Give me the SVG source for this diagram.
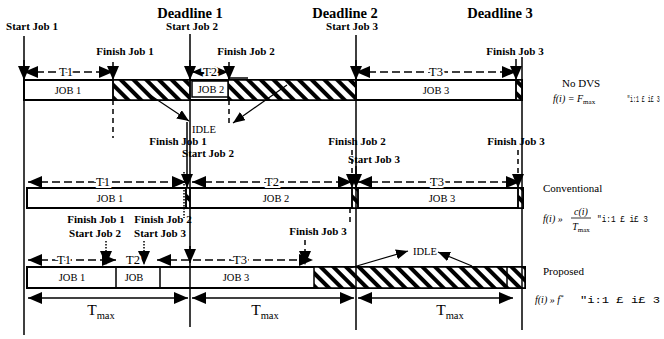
<svg xmlns="http://www.w3.org/2000/svg" width="664" height="339" viewBox="0 0 664 339" font-family="'Liberation Serif', 'Times New Roman', serif">
<defs>
<style>
text{font-family:"Liberation Serif","Times New Roman",serif;fill:#000}
.lb{font-size:11px;font-weight:bold;text-anchor:middle}
.dl{font-size:14.5px;font-weight:bold;text-anchor:middle}
.jb{font-size:10.5px;text-anchor:middle}
.tl{font-size:12.5px;text-anchor:middle;stroke:#fff;stroke-width:4;paint-order:stroke}
.tm{font-size:15.5px;text-anchor:middle}
.rl{font-size:11px}
.fm{font-size:10px;font-style:italic}
.mono{font-family:"Liberation Mono","Courier New",monospace;font-size:9px}
.vl{stroke:#000;stroke-width:1.5;fill:none}
.ar{stroke:#000;stroke-width:1.5;fill:none;marker-end:url(#ah)}
.da{stroke:#000;stroke-width:1.5;fill:none;stroke-dasharray:8,4;marker-start:url(#ah);marker-end:url(#ah)}
.dd{stroke:#000;stroke-width:1.5;fill:none;stroke-dasharray:5,4}
.dda{stroke:#000;stroke-width:1.5;fill:none;stroke-dasharray:5,4;marker-end:url(#ah)}
.dot{stroke:#000;stroke-width:1.5;fill:none;stroke-dasharray:1.5,1.5}
.dota{stroke:#000;stroke-width:1.5;fill:none;stroke-dasharray:1.5,1.5;marker-end:url(#ah)}
.sa{stroke:#000;stroke-width:1.5;fill:none;marker-start:url(#ah);marker-end:url(#ah)}
.ia{stroke:#000;stroke-width:1.2;fill:none;marker-end:url(#ahs)}
.box{fill:#fff;stroke:#000;stroke-width:2}
.hz{fill:url(#hatch);stroke:#000;stroke-width:1.5}
</style>
<marker id="ah" viewBox="0 0 14 12" refX="14" refY="6" markerWidth="14" markerHeight="12" markerUnits="userSpaceOnUse" orient="auto-start-reverse"><path d="M0,0 L14,6 L0,12 z" fill="#000"/></marker>
<marker id="ahs" viewBox="0 0 12 10" refX="12" refY="5" markerWidth="12" markerHeight="10" markerUnits="userSpaceOnUse" orient="auto"><path d="M0,0 L12,5 L0,10 z" fill="#000"/></marker>
<pattern id="hatch" width="9" height="9" patternUnits="userSpaceOnUse" patternTransform="rotate(-45)"><rect width="9" height="9" fill="#fff"/><rect width="4" height="9" fill="#000"/></pattern>
</defs>

<g id="headers">
<text class="dl" x="190" y="18">Deadline 1</text>
<text class="dl" x="345" y="18">Deadline 2</text>
<text class="dl" x="500" y="18">Deadline 3</text>
</g>

<g id="row-nodvs">
<rect class="box" x="24" y="80" width="498" height="20"/>
<rect class="hz" x="113" y="80" width="77" height="20"/>
<rect class="hz" x="228" y="80" width="128" height="20"/>
<rect class="hz" x="516" y="80" width="6" height="20"/>
<rect fill="#fff" stroke="#000" stroke-width="1.5" x="192" y="81" width="36" height="16"/>
<path class="vl" d="M228,78 H248"/>
<text class="jb" x="68" y="94">JOB 1</text>
<text class="jb" x="211" y="93">JOB 2</text>
<text class="jb" x="436" y="94">JOB 3</text>
<text class="lb" x="32" y="30">Start Job 1</text>
<text class="lb" x="192" y="30">Start Job 2</text>
<text class="lb" x="352" y="30">Start Job 3</text>
<text class="lb" x="125" y="55">Finish Job 1</text>
<text class="lb" x="246" y="55">Finish Job 2</text>
<text class="lb" x="515" y="55">Finish Job 3</text>
<text class="jb" x="204" y="133">IDLE</text>
<text class="rl" x="562" y="87">No DVS</text>
<text class="fm" x="553" y="102">f(i) = F<tspan font-size="7" font-style="normal" dy="2">max</tspan></text>
<text class="mono" transform="translate(627,102) scale(0.55,1)">"i:1 £ i£ 3</text>
</g>

<g id="row-conventional">
<rect class="box" x="27" y="188" width="496" height="20"/>
<rect class="hz" x="186" y="188" width="4" height="20"/>
<rect class="hz" x="352" y="188" width="6" height="20"/>
<rect class="hz" x="518" y="188" width="5" height="20"/>
<text class="jb" x="110" y="202">JOB 1</text>
<text class="jb" x="276" y="202">JOB 2</text>
<text class="jb" x="442" y="202">JOB 3</text>
<text class="lb" x="178" y="145">Finish Job 1</text>
<text class="lb" x="208" y="157">Start Job 2</text>
<text class="lb" x="357" y="145">Finish Job 2</text>
<text class="lb" x="374" y="163">Start Job 3</text>
<text class="lb" x="516" y="145">Finish Job 3</text>
<text class="rl" x="543" y="192">Conventional</text>
<text class="fm" x="543" y="222">f(i) »</text>
<text class="fm" x="581" y="215" text-anchor="middle">c(i)</text>
<path d="M571,218 H591" stroke="#000" stroke-width="0.8"/>
<text class="fm" x="581" y="230" text-anchor="middle">T<tspan font-size="7" font-style="normal" dy="2">max</tspan></text>
<text class="mono" x="597" y="222" textLength="51" lengthAdjust="spacingAndGlyphs">"i:1 £ i£ 3</text>
</g>

<g id="row-proposed">
<rect class="box" x="27" y="267" width="498" height="21"/>
<rect class="hz" x="314" y="267" width="211" height="21"/>
<path class="vl" d="M116,267 V288 M160,267 V288 M507,267 V288"/>
<text class="jb" x="72" y="281">JOB 1</text>
<text class="jb" x="134" y="281">JOB</text>
<text class="jb" x="236" y="281">JOB 3</text>
<text class="lb" x="96" y="223">Finish Job 1</text>
<text class="lb" x="95" y="237">Start Job 2</text>
<text class="lb" x="163" y="223">Finish Job 2</text>
<text class="lb" x="160" y="237">Start Job 3</text>
<text class="lb" x="318" y="235">Finish Job 3</text>
<text class="jb" x="425" y="255">IDLE</text>
<text class="tm" x="101" y="315">T<tspan font-size="10.5" dy="4">max</tspan></text>
<text class="tm" x="265" y="315">T<tspan font-size="10.5" dy="4">max</tspan></text>
<text class="tm" x="450" y="315">T<tspan font-size="10.5" dy="4">max</tspan></text>
<text class="rl" x="543" y="275">Proposed</text>
<text class="fm" x="535" y="303">f(i) » f<tspan font-size="7" dy="-4">*</tspan></text>
<text class="mono" x="580" y="303" textLength="80" lengthAdjust="spacingAndGlyphs">"i:1 £ i£ 3</text>
</g>

<g id="connectors">
<path class="vl" d="M24,36 V335 M190,34 V327 M356,35 V330 M522,57 V330"/>
<path class="vl" d="M113,80 V100 M356,80 V100 M516,80 V100"/>
<path class="ar" d="M24,60 V80"/>
<path class="ar" d="M113,62 V80"/>
<path class="ar" d="M190,60 V80"/>
<path class="ar" d="M229,62 V80"/>
<path class="ar" d="M356,60 V80"/>
<path class="ar" d="M516,59 V80"/>
<path class="da" d="M24,72 H113"/>
<path class="da" d="M192,72 H228"/>
<path class="da" d="M356,72 H516"/>
<path class="dd" d="M113,100 V138 M229,100 V126"/>
<path class="ia" d="M150,95 L189,121"/>
<path class="ia" d="M287,85 L233,123"/>
<path class="vl" d="M186,188 V208 M352,188 V208 M358,188 V208 M518,188 V208"/>
<path class="ar" d="M187,122 V188"/>
<path class="dda" d="M352,150 V188"/>
<path class="ar" d="M356,166 V188"/>
<path class="dda" d="M518,150 V188"/>
<path class="da" d="M28,182 H186"/>
<path class="da" d="M192,182 H352"/>
<path class="da" d="M358,182 H520"/>
<path class="dot" d="M184,172 V218"/>
<path class="dd" d="M350,208 V226"/>
<path class="dota" d="M106,241 V265"/>
<path class="dota" d="M144,241 V265"/>
<path class="ar" d="M190,246 V263"/>
<path class="dda" d="M305,240 V265"/>
<path class="da" d="M28,260 H116"/>
<path class="da" d="M157,260 H313"/>
<path class="ia" d="M350,268 L408,251"/>
<path class="ia" d="M472,266 L438,252"/>
<path class="sa" d="M28,298 H188"/>
<path class="sa" d="M192,298 H354"/>
<path class="sa" d="M358,298 H513"/>
</g>
<g id="labels-on-lines">
<text class="tl" x="66" y="76">T1</text>
<text class="tl" x="210" y="76">T2</text>
<text class="tl" x="436" y="76">T3</text>
<text class="tl" x="103" y="186">T1</text>
<text class="tl" x="272" y="186">T2</text>
<text class="tl" x="437" y="186">T3</text>
<text class="tl" x="64" y="264">T1</text>
<text class="tl" x="133" y="264">T2</text>
<text class="tl" x="240" y="264">T3</text>
</g>
</svg>
